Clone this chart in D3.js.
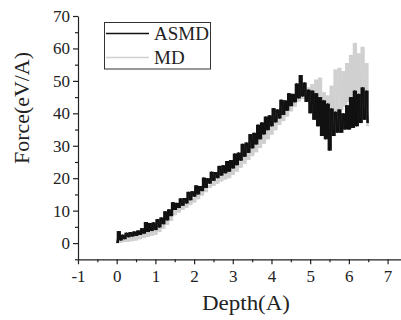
<!DOCTYPE html>
<html>
<head>
<meta charset="utf-8">
<script src="https://cdn.jsdelivr.net/npm/d3@7"></script>
<style>
	body { margin: 0; background: #fff; }
	svg { display: block; font-family: "Liberation Serif", "Times New Roman", serif; }
</style>
</head>
<body>
<svg id="chart" width="401" height="320"></svg>
<script>

// depth (A), one sample every 0.05
const DEPTH = [
	0.00, 0.05, 0.10, 0.15, 0.20, 0.25, 0.30, 0.35, 0.40, 0.45,
	0.50, 0.55, 0.60, 0.65, 0.70, 0.75, 0.80, 0.85, 0.90, 0.95,
	1.00, 1.05, 1.10, 1.15, 1.20, 1.25, 1.30, 1.35, 1.40, 1.45,
	1.50, 1.55, 1.60, 1.65, 1.70, 1.75, 1.80, 1.85, 1.90, 1.95,
	2.00, 2.05, 2.10, 2.15, 2.20, 2.25, 2.30, 2.35, 2.40, 2.45,
	2.50, 2.55, 2.60, 2.65, 2.70, 2.75, 2.80, 2.85, 2.90, 2.95,
	3.00, 3.05, 3.10, 3.15, 3.20, 3.25, 3.30, 3.35, 3.40, 3.45,
	3.50, 3.55, 3.60, 3.65, 3.70, 3.75, 3.80, 3.85, 3.90, 3.95,
	4.00, 4.05, 4.10, 4.15, 4.20, 4.25, 4.30, 4.35, 4.40, 4.45,
	4.50, 4.55, 4.60, 4.65, 4.70, 4.75, 4.80, 4.85, 4.90, 4.95,
	5.00, 5.05, 5.10, 5.15, 5.20, 5.25, 5.30, 5.35, 5.40, 5.45,
	5.50, 5.55, 5.60, 5.65, 5.70, 5.75, 5.80, 5.85, 5.90, 5.95,
	6.00, 6.05, 6.10, 6.15, 6.20, 6.25, 6.30, 6.35, 6.40, 6.45,
	6.50
];

// force (eV/A), alternating high / low of the noise
const ASMD = [
	0, 3.7, 0.8, 2.6, 1.2, 3.2, 1.8, 3.4, 2.0, 3.6,
	2.2, 3.9, 2.5, 4.6, 2.9, 6.5, 3.4, 6.2, 3.7, 6.4,
	4.0, 7.4, 4.8, 7.9, 5.8, 9.8, 7.0, 10.4, 8.3, 12.6,
	10.2, 12.4, 10.8, 13.8, 11.5, 13.9, 12.2, 15.8, 13.2, 16.0,
	14.3, 17.8, 15.0, 17.6, 16.0, 20.2, 17.0, 20.0, 18.3, 22.0,
	19.2, 21.9, 20.0, 23.8, 20.8, 24.0, 21.5, 25.3, 22.0, 25.6,
	23.0, 27.6, 24.0, 27.9, 25.4, 30.6, 26.6, 31.0, 27.8, 33.6,
	29.2, 34.0, 30.4, 36.5, 32.0, 37.2, 33.5, 39.0, 34.8, 39.4,
	36.0, 41.6, 37.2, 41.2, 38.4, 44.2, 39.5, 44.0, 40.8, 46.2,
	42.2, 46.0, 43.4, 49.2, 44.6, 51.8, 45.2, 49.5, 43.5, 47.3,
	40.0, 47.0, 38.0, 46.2, 36.0, 45.0, 33.0, 44.0, 32.0, 43.0,
	28.5, 41.5, 33.0, 40.5, 34.0, 41.2, 34.0, 40.0, 35.0, 42.5,
	35.0, 45.0, 35.5, 47.0, 36.0, 46.0, 37.0, 48.0, 38.0, 47.0,
	37.0
];

const MD = [
	0, 0.8, 0.1, 1.2, 0.3, 1.6, 0.4, 1.9, 0.6, 2.1,
	0.8, 2.4, 1.2, 2.8, 1.6, 3.2, 1.9, 3.5, 2.2, 3.8,
	2.5, 4.8, 3.4, 5.6, 4.4, 7.5, 5.6, 8.2, 6.8, 10.1,
	8.6, 10.7, 9.4, 11.9, 10.2, 12.1, 10.9, 13.6, 11.7, 13.9,
	12.5, 15.1, 13.5, 15.6, 14.6, 17.4, 15.7, 17.8, 17.0, 19.4,
	17.6, 19.6, 18.3, 21.0, 19.0, 21.2, 19.6, 22.4, 20.0, 22.8,
	21.0, 24.6, 22.0, 25.2, 23.2, 27.2, 24.4, 28.0, 25.6, 30.0,
	26.8, 30.8, 28.0, 32.8, 29.3, 33.6, 30.6, 35.6, 32.0, 36.4,
	33.4, 38.2, 34.8, 38.6, 36.4, 40.8, 37.6, 41.6, 39.0, 43.4,
	40.6, 44.2, 42.0, 45.9, 43.6, 46.6, 44.4, 47.9, 44.8, 48.0,
	44.4, 49.0, 45.0, 50.4, 45.2, 51.0, 42.5, 46.5, 41.0, 45.5,
	40.5, 48.5, 40.0, 53.5, 40.5, 54.0, 41.0, 53.0, 42.0, 55.5,
	43.5, 58.0, 44.0, 61.7, 45.0, 58.5, 44.5, 60.5, 44.0, 55.5,
	36.0
];

const SERIES_NAMES = ['ASMD', 'MD'];
const X_TICKS = [-1, 0, 1, 2, 3, 4, 5, 6, 7];
const X_MINOR = [-0.5, 0.5, 1.5, 2.5, 3.5, 4.5, 5.5, 6.5];
const Y_TICKS = [0, 10, 20, 30, 40, 50, 60, 70];
const Y_MINOR = [-5, 5, 15, 25, 35, 45, 55, 65];

const COLORS = { ASMD: '#111111', MD: '#d0d0d0' };

const svg = d3.select('#chart');

const x = d3.scaleLinear().domain([-1, 7.36]).range([78, 401.5]);
const y = d3.scaleLinear().domain([-5, 70]).range([259.3, 16]);

const line = d3.line()
	.x((d) => x(d.depth))
	.y((d) => y(d.force));

const seriesData = {
	ASMD: DEPTH.map((d, i) => ({ depth: d, force: ASMD[i] })),
	MD: DEPTH.map((d, i) => ({ depth: d, force: MD[i] }))
};

// MD first so ASMD sits on top; each step between two samples is
// filled so the noise reads as a solid band like the original plot
['MD', 'ASMD'].forEach((name) => {
	const g = svg.append('g');
	g.selectAll('rect')
		.data(d3.pairs(seriesData[name]))
		.enter()
		.append('rect')
		.attr('x', ([a, b]) => x(a.depth))
		.attr('width', ([a, b]) => x(b.depth) - x(a.depth) + 0.4)
		.attr('y', ([a, b]) => y(Math.max(a.force, b.force)))
		.attr('height', ([a, b]) => Math.abs(y(a.force) - y(b.force)))
		.attr('fill', COLORS[name]);
	g.append('path')
		.datum(seriesData[name])
		.attr('fill', 'none')
		.attr('stroke', COLORS[name])
		.attr('stroke-width', 1)
		.attr('d', line);
});

// axes
const fmt = (d) => String(d);
svg.append('g')
	.attr('transform', `translate(0,${y(-5)})`)
	.call(d3.axisBottom(x).tickValues(X_TICKS).tickSize(5).tickSizeOuter(0).tickPadding(6).tickFormat(fmt));
svg.append('g')
	.attr('transform', `translate(0,${y(-5)})`)
	.call(d3.axisBottom(x).tickValues(X_MINOR).tickSize(3).tickFormat(''))
	.call((g) => g.select('.domain').remove());

svg.append('g')
	.attr('transform', `translate(${x(-1)},0)`)
	.call(d3.axisLeft(y).tickValues(Y_TICKS).tickSize(5).tickSizeOuter(0).tickPadding(3).tickFormat(fmt));
svg.append('g')
	.attr('transform', `translate(${x(-1)},0)`)
	.call(d3.axisLeft(y).tickValues(Y_MINOR).tickSize(3).tickFormat(''))
	.call((g) => g.select('.domain').remove());

svg.selectAll('.domain, .tick line').attr('stroke', '#222').attr('stroke-width', 1.2);
svg.selectAll('.tick text')
	.attr('font-size', 17)
	.attr('font-family', '"Liberation Serif", "Times New Roman", serif')
	.attr('fill', '#222');

// axis titles
svg.append('text')
	.attr('x', 246)
	.attr('y', 310)
	.attr('text-anchor', 'middle')
	.attr('font-size', 20)
	.attr('textLength', 88)
	.attr('lengthAdjust', 'spacingAndGlyphs')
	.attr('fill', '#222')
	.text('Depth(A)');

svg.append('text')
	.attr('transform', 'translate(29,108) rotate(-90)')
	.attr('text-anchor', 'middle')
	.attr('font-size', 20)
	.attr('textLength', 112)
	.attr('lengthAdjust', 'spacingAndGlyphs')
	.attr('fill', '#222')
	.text('Force(eV/A)');

// legend
const legend = svg.append('g');
legend.append('rect')
	.attr('x', 104.5).attr('y', 22.5)
	.attr('width', 106).attr('height', 46.5)
	.attr('fill', '#fff')
	.attr('stroke', '#333')
	.attr('stroke-width', 1);

SERIES_NAMES.forEach((name, i) => {
	const ly = 33.5 + i * 24;
	legend.append('line')
		.attr('x1', 106).attr('x2', 149)
		.attr('y1', ly).attr('y2', ly)
		.attr('stroke', COLORS[name])
		.attr('stroke-width', 1.3);
	legend.append('text')
		.attr('x', 154)
		.attr('y', ly + 6)
		.attr('font-size', 19)
		.attr('fill', '#222')
		.text(name);
});

</script>
</body>
</html>
